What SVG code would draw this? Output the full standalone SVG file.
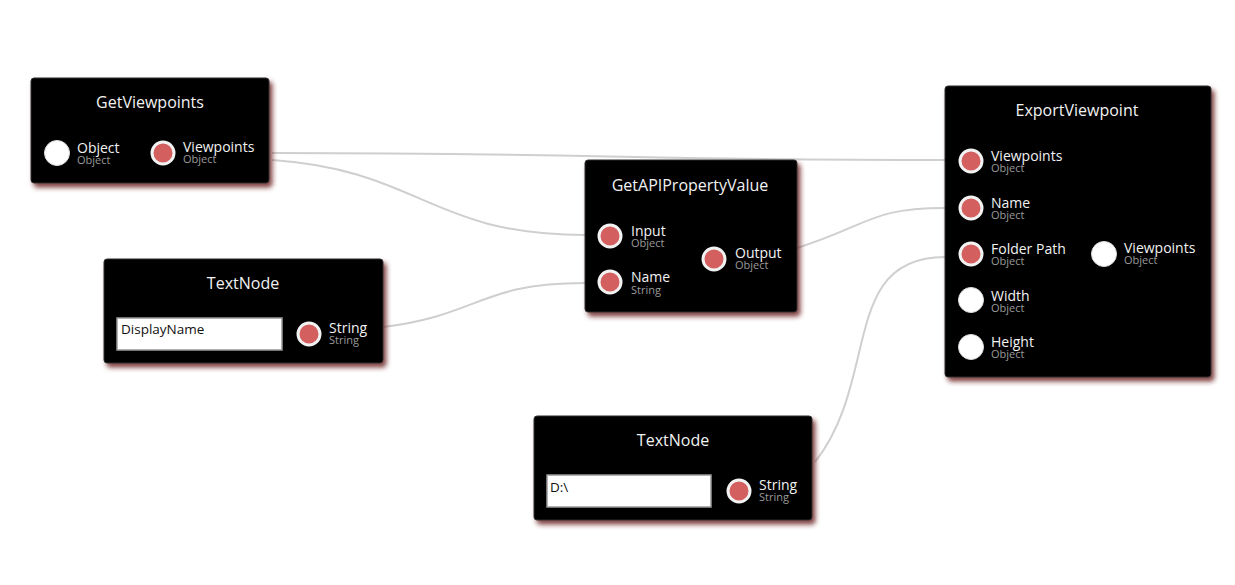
<svg xmlns="http://www.w3.org/2000/svg" width="1235" height="585" viewBox="0 0 1235 585">
<defs>
<filter id="sh" x="-10%" y="-10%" width="125%" height="130%">
<feDropShadow dx="3" dy="4" stdDeviation="2.5" flood-color="#6b1c1c" flood-opacity="0.85"/>
</filter>
<style>
.node{fill:#000;stroke:#333;stroke-width:1;filter:url(#sh)}
.title{font-family:"Open Sans","Noto Sans",sans-serif;font-size:16px;fill:#f2f2f2;text-anchor:middle}
.lbl{font-family:"Open Sans","Noto Sans",sans-serif;font-size:14px;fill:#f2f2f2}
.sub{font-family:"Open Sans","Noto Sans",sans-serif;font-size:11px;fill:#9a9a9a}
.pr{fill:#d35f5f;stroke:#f2f2f2;stroke-width:3}
.pw{fill:#fff;stroke:#ddd;stroke-width:1}
.inp{fill:#fff;stroke:#999;stroke-width:1.5}
.itx{font-family:"Open Sans","Noto Sans",sans-serif;font-size:13.5px;fill:#111}
.wire{fill:none;stroke:#cfcfcf;stroke-width:2}
</style>
</defs>
<rect width="1235" height="585" fill="#fff"/>
<g id="connectors">
<path class="wire" d="M272,153 C600,153 620,160 945,160"/>
<path class="wire" d="M272,160 C420,170 430,235 585,235"/>
<path class="wire" d="M383,327 C480,315 480,283 585,283"/>
<path class="wire" d="M797,248 C870,225 870,208 945,208"/>
<path class="wire" d="M815,462 C880,380 840,257 945,257"/>
</g>
<g id="GetViewpoints">
<rect class="node" x="31" y="78" width="238" height="105" rx="3"/>
<text class="title" x="150" y="108">GetViewpoints</text>
<circle class="pw" cx="57" cy="153" r="12.5"/>
<text class="lbl" x="77" y="153">Object</text>
<text class="sub" x="77" y="164">Object</text>
<circle class="pr" cx="163" cy="153" r="11"/>
<text class="lbl" x="183" y="152">Viewpoints</text>
<text class="sub" x="183" y="163">Object</text>
</g>
<g id="GetAPIPropertyValue">
<rect class="node" x="585" y="160" width="212" height="152" rx="3"/>
<text class="title" x="690" y="191">GetAPIPropertyValue</text>
<circle class="pr" cx="610" cy="236" r="11"/>
<text class="lbl" x="631" y="236">Input</text>
<text class="sub" x="631" y="247">Object</text>
<circle class="pr" cx="610" cy="282" r="11"/>
<text class="lbl" x="631" y="282">Name</text>
<text class="sub" x="631" y="294">String</text>
<circle class="pr" cx="714" cy="259" r="11"/>
<text class="lbl" x="735" y="258">Output</text>
<text class="sub" x="735" y="269">Object</text>
</g>
<g id="ExportViewpoint">
<rect class="node" x="945" y="86" width="266" height="291" rx="3"/>
<text class="title" x="1077" y="116">ExportViewpoint</text>
<circle class="pr" cx="971" cy="161" r="11"/>
<text class="lbl" x="991" y="161">Viewpoints</text>
<text class="sub" x="991" y="172">Object</text>
<circle class="pr" cx="971" cy="208" r="11"/>
<text class="lbl" x="991" y="208">Name</text>
<text class="sub" x="991" y="219">Object</text>
<circle class="pr" cx="971" cy="254" r="11"/>
<text class="lbl" x="991" y="254">Folder Path</text>
<text class="sub" x="991" y="265">Object</text>
<circle class="pw" cx="971" cy="300" r="12.5"/>
<text class="lbl" x="991" y="301">Width</text>
<text class="sub" x="991" y="312">Object</text>
<circle class="pw" cx="971" cy="347" r="12.5"/>
<text class="lbl" x="991" y="347">Height</text>
<text class="sub" x="991" y="358">Object</text>
<circle class="pw" cx="1104" cy="254" r="12.5"/>
<text class="lbl" x="1124" y="253">Viewpoints</text>
<text class="sub" x="1124" y="264">Object</text>
</g>
<g id="TextNode1">
<rect class="node" x="104" y="259" width="279" height="104" rx="3"/>
<text class="title" x="243" y="289">TextNode</text>
<rect class="inp" x="117" y="318" width="165" height="32"/>
<text class="itx" x="121" y="334">DisplayName</text>
<circle class="pr" cx="309" cy="334" r="11"/>
<text class="lbl" x="329" y="333">String</text>
<text class="sub" x="329" y="344">String</text>
</g>
<g id="TextNode2">
<rect class="node" x="534" y="416" width="278" height="104" rx="3"/>
<text class="title" x="673" y="446">TextNode</text>
<rect class="inp" x="547" y="475" width="164" height="32"/>
<text class="itx" x="550" y="492">D:\</text>
<circle class="pr" cx="739" cy="491" r="11"/>
<text class="lbl" x="759" y="490">String</text>
<text class="sub" x="759" y="501">String</text>
</g>
</svg>
